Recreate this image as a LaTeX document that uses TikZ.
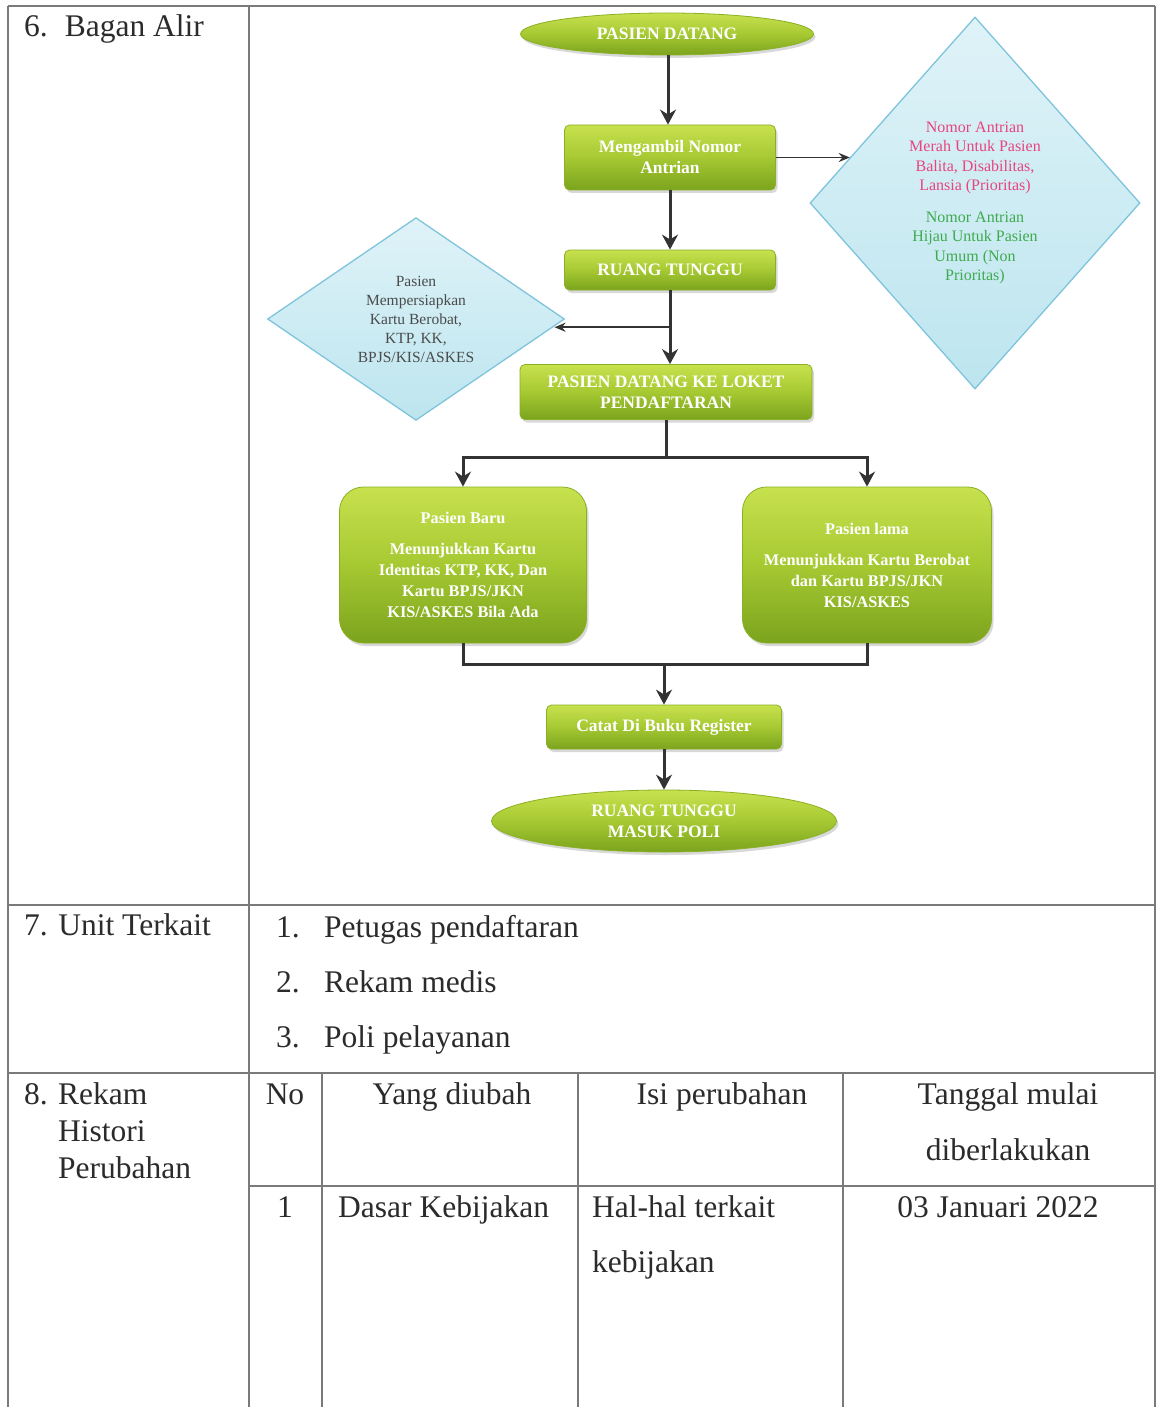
\documentclass[tikz,border=0pt]{standalone}
\usepackage{fontspec}
\setmainfont{Liberation Serif}
\usetikzlibrary{shapes.geometric,arrows.meta,shadows,calc}
\definecolor{gA}{HTML}{C8E14E}
\definecolor{gB}{HTML}{A6C932}
\definecolor{gC}{HTML}{7BA31D}
\definecolor{gEdge}{HTML}{8AB024}
\definecolor{dA}{HTML}{DFF3F8}
\definecolor{dB}{HTML}{BDE5EF}
\definecolor{dEdge}{HTML}{7EC4DC}
\definecolor{pk}{HTML}{E8447F}
\definecolor{gn}{HTML}{3FAA4E}
\definecolor{ink}{HTML}{2B2B2B}
\definecolor{rulec}{HTML}{7A7A7A}
\definecolor{arrowc}{HTML}{333333}
\begin{document}
\begin{tikzpicture}[x=1pt,y=-1pt,
  gfill/.style={top color=gA, bottom color=gC, middle color=gB, draw=gEdge, line width=0.8pt,
    text=white, align=center, inner sep=0pt, font=\bfseries\fontsize{17.5}{21}\selectfont,
    drop shadow={shadow xshift=2pt,shadow yshift=-3pt,opacity=0.3}},
  gbox/.style={gfill, rectangle, rounded corners=5pt},
  gcard/.style={gfill, rectangle, rounded corners=24pt, font=\bfseries\fontsize{16.3}{21}\selectfont},
  gterm/.style={gfill, ellipse},
  dia/.style={diamond, top color=dA, bottom color=dB, draw=dEdge, line width=1.3pt, align=center, inner sep=0pt},
  main/.style={draw=arrowc, line width=3pt},
  arr/.style={main, -{Stealth[length=15pt,width=16pt]}},
  sidearr/.style={draw=arrowc, line width=1.8pt, -{Stealth[length=11pt,width=9pt]}},
  rl/.style={draw=rulec, line width=1.5pt},
  txt/.style={text=ink, font=\fontsize{31.5}{37}\selectfont, inner sep=0pt, anchor=base west},
  txtc/.style={txt, anchor=base},
]
\fill[white] (0,0) rectangle (1157,1407);
\useasboundingbox (0,0) rectangle (1157,1407);

% table rules
\draw[rl] (8,6) -- (1155,6);
\draw[rl] (8,6) -- (8,1407);
\draw[rl] (1155,6) -- (1155,1407);
\draw[rl] (249,6) -- (249,1407);
\draw[rl] (8,905) -- (1155,905);
\draw[rl] (8,1073) -- (1155,1073);
\draw[rl] (322,1073) -- (322,1407);
\draw[rl] (578,1073) -- (578,1407);
\draw[rl] (843,1073) -- (843,1407);
\draw[rl] (249,1186) -- (1155,1186);

% table text
\node[txt] (t6) at (24,37) {6.\hspace{17pt}Bagan Alir};
\node[txt] (t7) at (24,935) {7. Unit Terkait};
\node[txt] (u1n) at (276,937) {1.};
\node[txt] (u1) at (324,937) {Petugas pendaftaran};
\node[txt] (u2n) at (276,992) {2.};
\node[txt] (u2) at (324,992) {Rekam medis};
\node[txt] (u3n) at (276,1047) {3.};
\node[txt] (u3) at (324,1047) {Poli pelayanan};
\node[txt] (t8) at (24,1104) {8.};
\node[txt] (t8a) at (58,1104) {Rekam};
\node[txt] (t8b) at (58,1141) {Histori};
\node[txt] (t8c) at (58,1178) {Perubahan};
\node[txtc] (hNo) at (285,1104) {No};
\node[txtc] (hYang) at (452,1104) {Yang diubah};
\node[txtc] (hIsi) at (722,1104) {Isi perubahan};
\node[txtc] (hTgl) at (1008,1104) {Tanggal mulai};
\node[txtc] (hTgl2) at (1008,1160) {diberlakukan};
\node[txtc] (r1) at (285,1217) {1};
\node[txt] (r1a) at (338,1217) {Dasar Kebijakan};
\node[txt] (r1b) at (592,1217) {Hal-hal terkait};
\node[txt] (r1b2) at (592,1272) {kebijakan};
\node[txtc] (r1c) at (998,1217) {03 Januari 2022};

% flowchart nodes
\node[gterm, minimum width=293pt, minimum height=42pt] (start) at (667,34) {PASIEN DATANG};
\node[gbox, minimum width=211pt, minimum height=65pt] (ambil) at (670,157.5) {Mengambil Nomor\\Antrian};
\node[gbox, minimum width=211pt, minimum height=40pt] (tunggu) at (670,270) {RUANG TUNGGU};
\node[gbox, minimum width=292pt, minimum height=55pt] (loket) at (666,392) {PASIEN DATANG KE LOKET\\PENDAFTARAN};
\node[gcard, minimum width=247pt, minimum height=156pt] (baru) at (463,565)
  {Pasien Baru\\[10pt]Menunjukkan Kartu\\Identitas KTP, KK, Dan\\Kartu BPJS/JKN\\KIS/ASKES Bila Ada};
\node[gcard, minimum width=249pt, minimum height=156pt] (lama) at (867,565)
  {Pasien lama\\[10pt]Menunjukkan Kartu Berobat\\dan Kartu BPJS/JKN\\KIS/ASKES};
\node[gbox, minimum width=235pt, minimum height=44pt] (catat) at (664,727) {Catat Di Buku Register};
\node[gterm, minimum width=345pt, minimum height=62pt] (end) at (664,821) {RUANG TUNGGU\\MASUK POLI};

\node[dia, minimum width=330pt, minimum height=372pt, font=\fontsize{16}{19.5}\selectfont] (dr) at (975,203)
  {\textcolor{pk}{Nomor Antrian}\\\textcolor{pk}{Merah Untuk Pasien}\\\textcolor{pk}{Balita, Disabilitas,}\\\textcolor{pk}{Lansia (Prioritas)}\\[12pt]
   \textcolor{gn}{Nomor Antrian}\\\textcolor{gn}{Hijau Untuk Pasien}\\\textcolor{gn}{Umum (Non}\\\textcolor{gn}{Prioritas)}};
\node[dia, minimum width=297pt, minimum height=202pt, font=\fontsize{15.5}{19}\selectfont, text=ink!85] (dl) at (416,319)
  {Pasien\\Mempersiapkan\\Kartu Berobat,\\KTP, KK,\\BPJS/KIS/ASKES};

% connectors
\draw[arr] (start.south -| ambil.north) ++(-2,0) coordinate (s0) -- (s0 |- ambil.north);
\draw[sidearr] (ambil.east) -- (ambil.east -| dr.160);
\draw[arr] (ambil.south) -- (ambil.south |- tunggu.north);
\coordinate (br) at ($(tunggu.south)!0.5!(tunggu.south |- loket.north)$);
\draw[arr] (tunggu.south) -- (tunggu.south |- loket.north);
\draw[sidearr] (br) -- (br -| dl.-3);
\coordinate (sp) at ($(loket.south)+(0,38)$);
\draw[main] (loket.south) -- (sp);
\draw[arr] (sp) -| (baru.north);
\draw[arr] (sp) -| (lama.north);
\coordinate (mg) at ($(catat.north)+(0,-40)$);
\draw[main] (baru.south) |- (mg);
\draw[main] (lama.south) |- (mg);
\draw[arr] (mg) -- (catat.north);
\draw[arr] (catat.south) -- (end.north);
\end{tikzpicture}
\end{document}
